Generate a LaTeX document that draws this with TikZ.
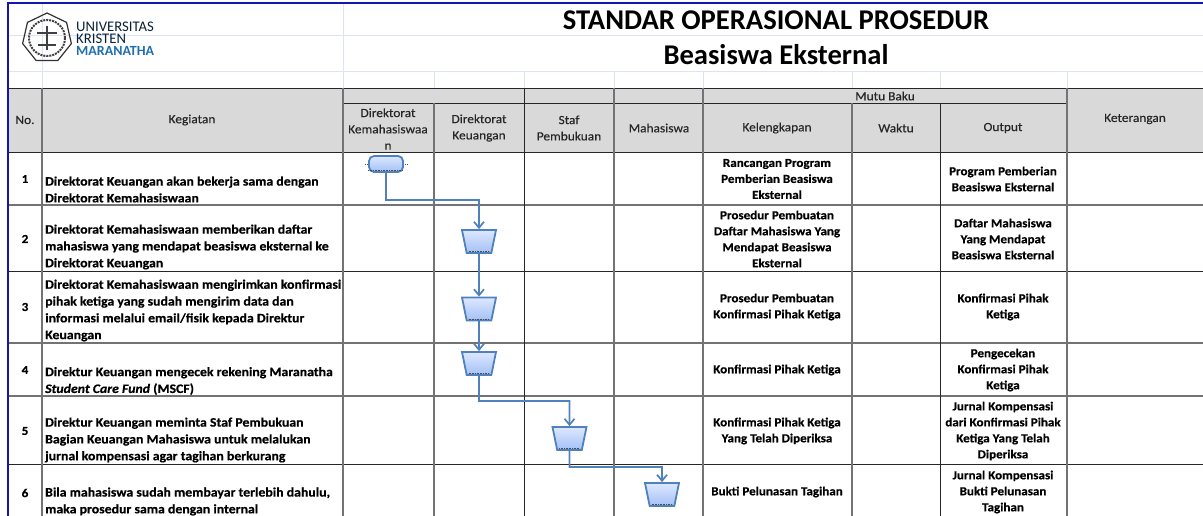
\documentclass[tikz,border=0pt]{standalone}
\usepackage{fontspec}
\setmainfont{Carlito}
\newfontfamily\cellface[FakeStretch=1.07,BoldFeatures={FakeBold=0.5},BoldItalicFeatures={FakeBold=0.5}]{Carlito}
\newfontfamily\headface[FakeStretch=1.07,FakeBold=0.3]{Carlito}
\usetikzlibrary{shapes.geometric,arrows.meta}
\definecolor{headgray}{HTML}{D9D9D9}
\definecolor{pagegrid}{HTML}{DDE3F2}
\definecolor{flowblue}{HTML}{4F81BD}
\definecolor{flowtop}{HTML}{DDE8FF}
\definecolor{flowbottom}{HTML}{A3C0F5}
\definecolor{edgeblue}{HTML}{1414B4}
\definecolor{logoblue}{HTML}{1F6FB0}
\tikzset{
    pageline/.style={pagegrid, line width=1pt},
    darkline/.style={black!85, line width=0.9pt},
    grayline/.style={black!55, line width=1.5pt},
    headtext/.style={align=center, inner sep=0pt, text=black!85, font=\fontsize{12.5}{16.3}\headface},
    bodytext/.style={align=center, inner sep=0pt, font=\fontsize{12.2}{16}\cellface\bfseries},
    leftext/.style={align=left, anchor=west, inner sep=0pt, font=\fontsize{12.9}{16.8}\cellface\bfseries},
    logotext/.style={align=left, anchor=west, inner sep=0pt, text=black!70!logoblue, font=\fontsize{14.7}{12}\selectfont},
    flowstart/.style={draw=flowblue, line width=1.8pt, rounded corners=5pt, minimum width=34pt, minimum height=16pt, inner sep=0pt, top color=flowtop, bottom color=flowbottom},
    flowtrap/.style={trapezium, shape border rotate=180, trapezium left angle=75, trapezium right angle=75, trapezium stretches=true, draw=flowblue, line width=1.8pt, minimum width=34pt, minimum height=23pt, inner sep=1pt, top color=flowtop, bottom color=flowbottom},
    flowarrow/.style={flowblue, line width=1.7pt, -{Straight Barb[length=6pt,width=10pt]}},
    handles/.style={black!70, densely dotted, line width=0.6pt}
}
\begin{document}
\begin{tikzpicture}[x=1pt, y=-1pt]
    \useasboundingbox (0,0) rectangle (1203,516);

    \fill[headgray] (8,88) rectangle (1203,152);

    \draw[pageline] (8,36) -- (1203,36);
    \draw[pageline] (8,72) -- (1203,72);
    \draw[pageline] (42,3) -- (42,88);
    \draw[pageline] (343,3) -- (343,88);
    \draw[pageline] (434,72) -- (434,88);
    \draw[pageline] (524,72) -- (524,88);
    \draw[pageline] (614,72) -- (614,88);
    \draw[pageline] (703,72) -- (703,88);
    \draw[pageline] (852,72) -- (852,88);
    \draw[pageline] (940,72) -- (940,88);
    \draw[pageline] (1067,72) -- (1067,88);

    \draw[darkline] (8,88) -- (1203,88);
    \draw[darkline] (343,103) -- (1067,103);
    \draw[darkline] (8,152) -- (1203,152);
    \draw[grayline] (8,205) -- (1203,205);
    \draw[darkline] (8,271) -- (1203,271);
    \draw[grayline] (8,343) -- (1203,343);
    \draw[grayline] (8,396) -- (1203,396);
    \draw[darkline] (8,464) -- (1203,464);

    \draw[grayline] (42,88) -- (42,516);
    \draw[grayline] (343,88) -- (343,516);
    \draw[grayline] (434,103) -- (434,516);
    \draw[darkline] (524,88) -- (524,516);
    \draw[grayline] (614,88) -- (614,516);
    \draw[grayline] (703,88) -- (703,516);
    \draw[grayline] (852,103) -- (852,516);
    \draw[darkline] (940,103) -- (940,516);
    \draw[grayline] (1067,88) -- (1067,516);

    \draw[edgeblue, line width=1.2pt] (8,516) -- (8,3) -- (1203,3);

    \node[regular polygon, regular polygon sides=7, draw=black!80, line width=1.2pt, minimum size=50pt, inner sep=0pt] (logoshape) at (47,38) {};
    \draw[black!75, densely dotted, line width=2pt] (logoshape.center) circle (18pt);
    \draw[black!75, line width=1.6pt] (47,26) -- (47,50);
    \draw[black!75, line width=1.6pt] (37,33) -- (57,33);
    \draw[black!75, line width=1.6pt] (38,45) -- (56,45);
    \node[logotext] (logoname) at (76,38.5) {UNIVERSITAS\\KRISTEN\\\textcolor{logoblue}{\fontsize{14}{12}\selectfont\bfseries MARANATHA}};

    \node[font=\fontsize{28.6}{28}\selectfont\bfseries, inner sep=0pt] (title) at (776,20) {STANDAR OPERASIONAL PROSEDUR};
    \node[font=\fontsize{28.6}{28}\selectfont\bfseries, inner sep=0pt] (subtitle) at (776,55) {Beasiswa Eksternal};

    \node[headtext] (hno) at (25,120) {No.};
    \node[headtext] (hkeg) at (192,120) {Kegiatan};
    \node[headtext] (hkem) at (388,129) {Direktorat\\Kemahasiswaa\\n};
    \node[headtext] (hkeu) at (479,128) {Direktorat\\Keuangan};
    \node[headtext] (hstaf) at (569,128) {Staf\\Pembukuan};
    \node[headtext] (hmhs) at (659,128) {Mahasiswa};
    \node[headtext] (hmutu) at (885,96) {Mutu Baku};
    \node[headtext] (hkel) at (777,128) {Kelengkapan};
    \node[headtext] (hwak) at (896,128) {Waktu};
    \node[headtext] (hout) at (1003,128) {Output};
    \node[headtext] (hket) at (1135,119) {Keterangan};

    \node[bodytext] (no1) at (25,179) {1};
    \node[bodytext] (no2) at (25,239) {2};
    \node[bodytext] (no3) at (25,307) {3};
    \node[bodytext] (no4) at (25,370) {4};
    \node[bodytext] (no5) at (25,431) {5};
    \node[bodytext] (no6) at (25,493) {6};

    \node[leftext] (keg1) at (45,189.5) {Direktorat Keuangan akan bekerja sama dengan\\Direktorat Kemahasiswaan};
    \node[leftext] (keg2) at (45,247) {Direktorat Kemahasiswaan memberikan daftar\\mahasiswa yang mendapat beasiswa eksternal ke\\Direktorat Keuangan};
    \node[leftext] (keg3) at (45,310.5) {Direktorat Kemahasiswaan mengirimkan konfirmasi\\pihak ketiga yang sudah mengirim data dan\\informasi melalui email/fisik kepada Direktur\\Keuangan};
    \node[leftext] (keg4) at (45,381) {Direktur Keuangan mengecek rekening Maranatha\\\textit{Student Care Fund} (MSCF)};
    \node[leftext] (keg5) at (45,440) {Direktur Keuangan meminta Staf Pembukuan\\Bagian Keuangan Mahasiswa untuk melalukan\\jurnal kompensasi agar tagihan berkurang};
    \node[leftext] (keg6) at (45,501.5) {Bila mahasiswa sudah membayar terlebih dahulu,\\maka prosedur sama dengan internal};

    \node[bodytext] (kel1) at (777,179) {Rancangan Program\\Pemberian Beasiswa\\Eksternal};
    \node[bodytext] (kel2) at (777,239) {Prosedur Pembuatan\\Daftar Mahasiswa Yang\\Mendapat Beasiswa\\Eksternal};
    \node[bodytext] (kel3) at (777,307) {Prosedur Pembuatan\\Konfirmasi Pihak Ketiga};
    \node[bodytext] (kel4) at (777,370) {Konfirmasi Pihak Ketiga};
    \node[bodytext] (kel5) at (777,431) {Konfirmasi Pihak Ketiga\\Yang Telah Diperiksa};
    \node[bodytext] (kel6) at (777,492) {Bukti Pelunasan Tagihan};

    \node[bodytext] (out1) at (1003,179) {Program Pemberian\\Beasiswa Eksternal};
    \node[bodytext] (out2) at (1003,239) {Daftar Mahasiswa\\Yang Mendapat\\Beasiswa Eksternal};
    \node[bodytext] (out3) at (1003,307) {Konfirmasi Pihak\\Ketiga};
    \node[bodytext] (out4) at (1003,370) {Pengecekan\\Konfirmasi Pihak\\Ketiga};
    \node[bodytext] (out5) at (1003,431) {Jurnal Kompensasi\\dari Konfirmasi Pihak\\Ketiga Yang Telah\\Diperiksa};
    \node[bodytext] (out6) at (1003,492) {Jurnal Kompensasi\\Bukti Pelunasan\\Tagihan};

    \node[flowstart] (start) at (386,164) {};
    \node[flowtrap] (trapa) at (479,241.5) {\phantom{.}};
    \node[flowtrap] (trapb) at (479,309) {\phantom{.}};
    \node[flowtrap] (trapc) at (479,363.5) {\phantom{.}};
    \node[flowtrap] (trapd) at (569.5,438.5) {\phantom{.}};
    \node[flowtrap] (trape) at (662,494.5) {\phantom{.}};

    \draw[flowarrow] (start.south) |- (479,200) -- (trapa.north);
    \draw[flowarrow] (trapa.south) -- (trapb.north);
    \draw[flowarrow] (trapb.south) -- (trapc.north);
    \draw[flowarrow] (trapc.south) |- (569.5,401) -- (trapd.north);
    \draw[flowarrow] (trapd.south) |- (662,467) -- (trape.north);

    \draw[handles] ([yshift=3pt]start.south west) -- ([yshift=3pt,xshift=-2pt]start.south east);
    \draw[handles] ([xshift=-3pt]start.west) -- ([xshift=-1pt]start.west);
    \draw[handles] ([xshift=1pt]start.east) -- ([xshift=3pt]start.east);
    \draw[handles] ([yshift=2.5pt,xshift=2pt]trapa.south west) -- ([yshift=2.5pt,xshift=-2pt]trapa.south east);
    \draw[handles] ([yshift=2.5pt,xshift=2pt]trapb.south west) -- ([yshift=2.5pt,xshift=-2pt]trapb.south east);
    \draw[handles] ([yshift=2.5pt,xshift=2pt]trapc.south west) -- ([yshift=2.5pt,xshift=-2pt]trapc.south east);
    \draw[handles] ([yshift=2.5pt,xshift=2pt]trapd.south west) -- ([yshift=2.5pt,xshift=-2pt]trapd.south east);
    \draw[handles] ([yshift=2.5pt,xshift=2pt]trape.south west) -- ([yshift=2.5pt,xshift=-2pt]trape.south east);
\end{tikzpicture}
\end{document}
